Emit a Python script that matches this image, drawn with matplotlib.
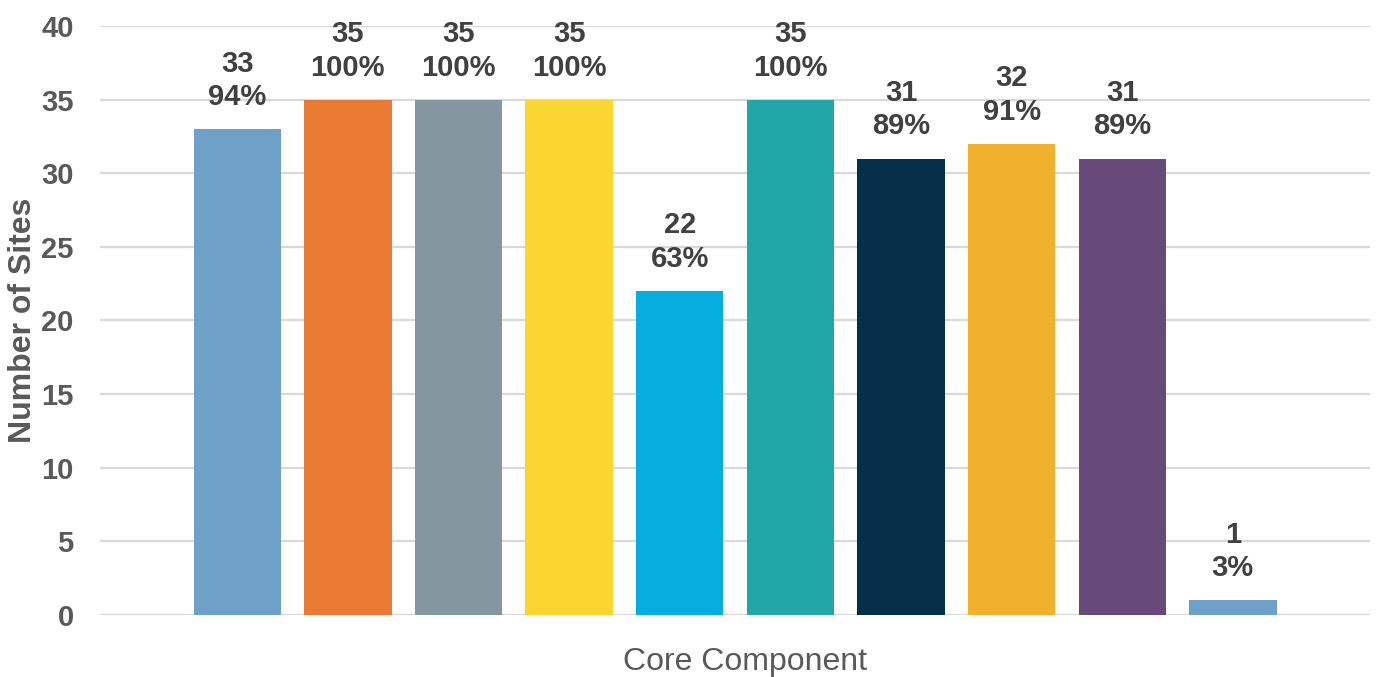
import matplotlib.pyplot as plt

plt.rcParams['font.family'] = ['Liberation Sans', 'DejaVu Sans']

# Data
total_sites = 35
sites = [33, 35, 35, 35, 22, 35, 31, 32, 31, 1]
colors = ['#6FA0C8', '#E87A33', '#8496A0', '#FBD530', '#07AEDD',
          '#22A6A8', '#062F4A', '#F2B12D', '#674A7A', '#6FA0C8']
y_ticks = [0, 5, 10, 15, 20, 25, 30, 35, 40]

fig = plt.figure(figsize=(13.9, 6.77), dpi=100)
ax = fig.add_axes([0.072, 0.0916, 0.9136, 0.87])

x = list(range(len(sites)))
ax.bar(x, sites, width=0.79, color=colors, zorder=2)

# Labels: count and percentage
for xi, v in zip(x, sites):
    pct = round(100 * v / total_sites)
    ax.annotate("{}\n{}%".format(v, pct), (xi, v), xytext=(0, 13),
                textcoords='offset points', ha='center', va='bottom',
                fontsize=21, fontweight='bold', color='#404040',
                linespacing=1.25, zorder=3)

ax.set_xlim(-1.24, 10.24)
ax.set_ylim(0, 40)
ax.set_yticks(y_ticks)
ax.set_xticks([])
ax.grid(axis='y', color='#D9D9D9', linewidth=1.6, zorder=0)
ax.set_axisbelow(True)
for s in ax.spines.values():
    s.set_visible(False)
ax.tick_params(axis='y', length=0, pad=19, labelsize=21, labelcolor='#595959')
for lbl in ax.get_yticklabels():
    lbl.set_fontweight('bold')

ax.set_ylabel("Number of Sites", fontsize=23, fontweight='bold', color='#595959', labelpad=2)
ax.set_xlabel("Core Component", fontsize=23, color='#595959')
ax.xaxis.set_label_coords(0.508, -0.055, transform=ax.transAxes)
ax.xaxis.label.set_va('top')

fig.savefig("out.png", dpi=100)
